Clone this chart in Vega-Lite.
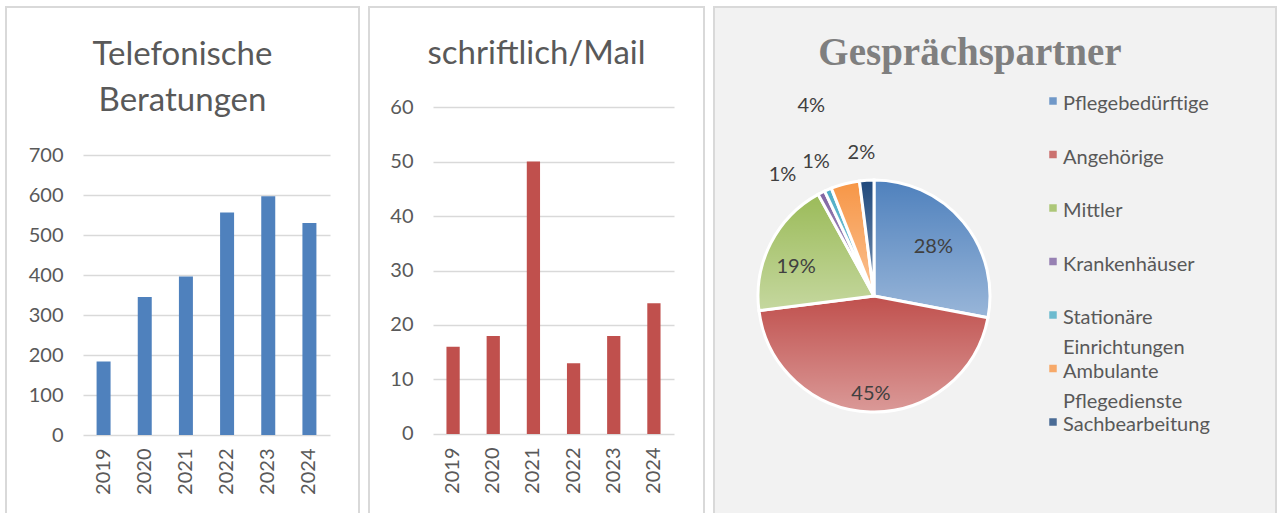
{
  "$schema": "https://vega.github.io/schema/vega-lite/v6.json",
  "padding": {"left": 5, "top": 6, "right": 0, "bottom": 0},
  "spacing": 8,
  "config": {
    "view": {"stroke": "#d9d9d9", "strokeWidth": 2},
    "font": "Lato",
    "axis": {"labelFont": "Lato", "labelFontSize": 20, "labelColor": "#595959", "domain": false, "ticks": false, "gridColor": "#d9d9d9", "gridWidth": 1.5},
    "title": {"font": "Lato", "fontSize": 33, "fontWeight": "normal", "color": "#595959", "anchor": "middle", "frame": "group"}
  },
  "hconcat": [
    {
      "width": 353,
      "height": 507,
      "title": {"text": ["Telefonische", "Beratungen"], "lineHeight": 46, "offset": -111},
      "data": {"values": [
        {"jahr": "2019", "anzahl": 184},
        {"jahr": "2020", "anzahl": 345},
        {"jahr": "2021", "anzahl": 396},
        {"jahr": "2022", "anzahl": 556},
        {"jahr": "2023", "anzahl": 597},
        {"jahr": "2024", "anzahl": 530}
      ]},
      "mark": {"type": "bar", "color": "#4F81BD"},
      "encoding": {
        "x": {"field": "jahr", "type": "ordinal", "title": null,
              "scale": {"range": [77, 324], "paddingInner": 0.66, "paddingOuter": 0.33},
              "axis": {"labelAngle": -90, "offset": -79, "labelPadding": 13, "grid": false}},
        "y": {"field": "anzahl", "type": "quantitative", "title": null,
              "scale": {"domain": [-197.5, 1070], "nice": false, "zero": false},
              "axis": {"values": [0, 100, 200, 300, 400, 500, 600, 700], "offset": -77, "labelPadding": 20, "grid": true}}
      }
    },
    {
      "width": 335,
      "height": 507,
      "title": {"text": "schriftlich/Mail", "offset": -64},
      "data": {"values": [
        {"jahr": "2019", "anzahl": 16},
        {"jahr": "2020", "anzahl": 18},
        {"jahr": "2021", "anzahl": 50},
        {"jahr": "2022", "anzahl": 13},
        {"jahr": "2023", "anzahl": 18},
        {"jahr": "2024", "anzahl": 24}
      ]},
      "mark": {"type": "bar", "color": "#C0504D"},
      "encoding": {
        "x": {"field": "jahr", "type": "ordinal", "title": null,
              "scale": {"range": [64, 305], "paddingInner": 0.67, "paddingOuter": 0.335},
              "axis": {"labelAngle": -90, "offset": -80, "labelPadding": 13, "grid": false}},
        "y": {"field": "anzahl", "type": "quantitative", "title": null,
              "scale": {"domain": [-14.68, 78.35], "nice": false, "zero": false},
              "axis": {"values": [0, 10, 20, 30, 40, 50, 60], "offset": -64, "labelPadding": 20, "grid": true}}
      }
    },
    {
      "width": 562,
      "height": 507,
      "view": {"fill": "#f2f2f2", "stroke": "#d9d9d9", "strokeWidth": 2},
      "title": {"text": "Gesprächspartner", "font": "Liberation Serif", "fontWeight": "bold", "fontSize": 39, "color": "#7f7f7f", "dx": -25, "offset": -66},
      "data": {"values": [
        {"nr": 1, "gruppe": "Pflegebedürftige", "anteil": 0.28},
        {"nr": 2, "gruppe": "Angehörige", "anteil": 0.45},
        {"nr": 3, "gruppe": "Mittler", "anteil": 0.19},
        {"nr": 4, "gruppe": "Krankenhäuser", "anteil": 0.01},
        {"nr": 5, "gruppe": "Stationäre Einrichtungen", "anteil": 0.01},
        {"nr": 6, "gruppe": "Ambulante Pflegedienste", "anteil": 0.04},
        {"nr": 7, "gruppe": "Sachbearbeitung", "anteil": 0.02}
      ]},
      "resolve": {"scale": {"y": "independent"}},
      "layer": [
        {
          "mark": {"type": "arc", "radius": 116, "stroke": "white", "strokeWidth": 3},
          "encoding": {
            "theta": {"field": "anteil", "type": "quantitative", "stack": true},
            "order": {"field": "nr", "type": "quantitative"},
            "color": {"field": "gruppe", "type": "nominal", "legend": null,
                      "scale": {"domain": ["Pflegebedürftige", "Angehörige", "Mittler", "Krankenhäuser", "Stationäre Einrichtungen", "Ambulante Pflegedienste", "Sachbearbeitung"],
                                "range": ["#4F81BD", "#C0504D", "#9BBB59", "#8064A2", "#4BACC6", "#F79646", "#1F497D"]}},
            "x": {"datum": "Diagramm", "type": "nominal", "axis": null, "scale": {"type": "point", "domain": ["Diagramm", "Legende"], "range": [160, 339], "padding": 0}},
            "y": {"datum": "Mitte", "type": "nominal", "axis": null, "scale": {"type": "point", "domain": ["Mitte"], "range": [0, 578], "padding": 0.5}}
          }
        },
        {
          "mark": {"type": "arc", "radius": 116,
                   "color": {"gradient": "linear", "x1": 0, "y1": 0, "x2": 0, "y2": 1,
                             "stops": [{"offset": 0, "color": "rgba(255,255,255,0)"}, {"offset": 1, "color": "rgba(255,255,255,0.42)"}]}},
          "encoding": {
            "theta": {"field": "anteil", "type": "quantitative", "stack": true},
            "order": {"field": "nr", "type": "quantitative"},
            "x": {"datum": "Diagramm", "type": "nominal", "axis": null, "scale": {"type": "point", "domain": ["Diagramm", "Legende"], "range": [160, 339], "padding": 0}},
            "y": {"datum": "Mitte", "type": "nominal", "axis": null, "scale": {"type": "point", "domain": ["Mitte"], "range": [0, 578], "padding": 0.5}}
          }
        },
        {
          "mark": {"type": "text", "clip": true, "radius": 77, "font": "Lato", "fontSize": 20, "color": "#404040"},
          "encoding": {
            "theta": {"field": "anteil", "type": "quantitative", "stack": true},
            "order": {"field": "nr", "type": "quantitative"},
            "text": {"condition": {"test": "datum.gruppe !== 'Pflegebedürftige'", "value": ""}, "field": "anteil", "type": "quantitative", "format": ".0%"},
            "x": {"datum": "Diagramm", "type": "nominal", "axis": null, "scale": {"type": "point", "domain": ["Diagramm", "Legende"], "range": [160, 339], "padding": 0}},
            "y": {"datum": "Mitte", "type": "nominal", "axis": null, "scale": {"type": "point", "domain": ["Mitte"], "range": [0, 578], "padding": 0.5}}
          }
        },
        {
          "mark": {"type": "text", "clip": true, "radius": 98, "font": "Lato", "fontSize": 20, "color": "#404040"},
          "encoding": {
            "theta": {"field": "anteil", "type": "quantitative", "stack": true},
            "order": {"field": "nr", "type": "quantitative"},
            "text": {"condition": {"test": "datum.gruppe !== 'Angehörige'", "value": ""}, "field": "anteil", "type": "quantitative", "format": ".0%"},
            "x": {"datum": "Diagramm", "type": "nominal", "axis": null, "scale": {"type": "point", "domain": ["Diagramm", "Legende"], "range": [160, 339], "padding": 0}},
            "y": {"datum": "Mitte", "type": "nominal", "axis": null, "scale": {"type": "point", "domain": ["Mitte"], "range": [0, 578], "padding": 0.5}}
          }
        },
        {
          "mark": {"type": "text", "clip": true, "radius": 83, "thetaOffset": -0.12, "font": "Lato", "fontSize": 20, "color": "#404040"},
          "encoding": {
            "theta": {"field": "anteil", "type": "quantitative", "stack": true},
            "order": {"field": "nr", "type": "quantitative"},
            "text": {"condition": {"test": "datum.gruppe !== 'Mittler'", "value": ""}, "field": "anteil", "type": "quantitative", "format": ".0%"},
            "x": {"datum": "Diagramm", "type": "nominal", "axis": null, "scale": {"type": "point", "domain": ["Diagramm", "Legende"], "range": [160, 339], "padding": 0}},
            "y": {"datum": "Mitte", "type": "nominal", "axis": null, "scale": {"type": "point", "domain": ["Mitte"], "range": [0, 578], "padding": 0.5}}
          }
        },
        {
          "mark": {"type": "text", "clip": true, "radius": 152, "thetaOffset": -0.1745, "font": "Lato", "fontSize": 20, "color": "#404040"},
          "encoding": {
            "theta": {"field": "anteil", "type": "quantitative", "stack": true},
            "order": {"field": "nr", "type": "quantitative"},
            "text": {"condition": {"test": "datum.gruppe !== 'Krankenhäuser'", "value": ""}, "field": "anteil", "type": "quantitative", "format": ".0%"},
            "x": {"datum": "Diagramm", "type": "nominal", "axis": null, "scale": {"type": "point", "domain": ["Diagramm", "Legende"], "range": [160, 339], "padding": 0}},
            "y": {"datum": "Mitte", "type": "nominal", "axis": null, "scale": {"type": "point", "domain": ["Mitte"], "range": [0, 578], "padding": 0.5}}
          }
        },
        {
          "mark": {"type": "text", "clip": true, "radius": 146, "font": "Lato", "fontSize": 20, "color": "#404040"},
          "encoding": {
            "theta": {"field": "anteil", "type": "quantitative", "stack": true},
            "order": {"field": "nr", "type": "quantitative"},
            "text": {"condition": {"test": "datum.gruppe !== 'Stationäre Einrichtungen'", "value": ""}, "field": "anteil", "type": "quantitative", "format": ".0%"},
            "x": {"datum": "Diagramm", "type": "nominal", "axis": null, "scale": {"type": "point", "domain": ["Diagramm", "Legende"], "range": [160, 339], "padding": 0}},
            "y": {"datum": "Mitte", "type": "nominal", "axis": null, "scale": {"type": "point", "domain": ["Mitte"], "range": [0, 578], "padding": 0.5}}
          }
        },
        {
          "mark": {"type": "text", "clip": true, "radius": 200, "thetaOffset": -0.068, "font": "Lato", "fontSize": 20, "color": "#404040"},
          "encoding": {
            "theta": {"field": "anteil", "type": "quantitative", "stack": true},
            "order": {"field": "nr", "type": "quantitative"},
            "text": {"condition": {"test": "datum.gruppe !== 'Ambulante Pflegedienste'", "value": ""}, "field": "anteil", "type": "quantitative", "format": ".0%"},
            "x": {"datum": "Diagramm", "type": "nominal", "axis": null, "scale": {"type": "point", "domain": ["Diagramm", "Legende"], "range": [160, 339], "padding": 0}},
            "y": {"datum": "Mitte", "type": "nominal", "axis": null, "scale": {"type": "point", "domain": ["Mitte"], "range": [0, 578], "padding": 0.5}}
          }
        },
        {
          "mark": {"type": "text", "clip": true, "radius": 144, "thetaOffset": -0.025, "font": "Lato", "fontSize": 20, "color": "#404040"},
          "encoding": {
            "theta": {"field": "anteil", "type": "quantitative", "stack": true},
            "order": {"field": "nr", "type": "quantitative"},
            "text": {"condition": {"test": "datum.gruppe !== 'Sachbearbeitung'", "value": ""}, "field": "anteil", "type": "quantitative", "format": ".0%"},
            "x": {"datum": "Diagramm", "type": "nominal", "axis": null, "scale": {"type": "point", "domain": ["Diagramm", "Legende"], "range": [160, 339], "padding": 0}},
            "y": {"datum": "Mitte", "type": "nominal", "axis": null, "scale": {"type": "point", "domain": ["Mitte"], "range": [0, 578], "padding": 0.5}}
          }
        },
        {
          "mark": {"type": "point", "shape": "square", "size": 56, "filled": true, "opacity": 0.8},
          "encoding": {
            "color": {"field": "gruppe", "type": "nominal", "legend": null},
            "x": {"datum": "Legende", "type": "nominal", "axis": null, "scale": {"type": "point", "domain": ["Diagramm", "Legende"], "range": [160, 339], "padding": 0}},
            "y": {"field": "gruppe", "type": "nominal", "axis": null, "scale": {"type": "point", "domain": ["Pflegebedürftige", "Angehörige", "Mittler", "Krankenhäuser", "Stationäre Einrichtungen", "Ambulante Pflegedienste", "Sachbearbeitung"], "range": [94, 415], "padding": 0}}
          }
        },
        {
          "mark": {"type": "text", "align": "left", "baseline": "top", "dx": 10, "dy": -7, "lineBreak": " ", "lineHeight": 30, "font": "Lato", "fontSize": 20, "color": "#595959"},
          "encoding": {
            "text": {"field": "gruppe", "type": "nominal"},
            "x": {"datum": "Legende", "type": "nominal", "axis": null, "scale": {"type": "point", "domain": ["Diagramm", "Legende"], "range": [160, 339], "padding": 0}},
            "y": {"field": "gruppe", "type": "nominal", "axis": null, "scale": {"type": "point", "domain": ["Pflegebedürftige", "Angehörige", "Mittler", "Krankenhäuser", "Stationäre Einrichtungen", "Ambulante Pflegedienste", "Sachbearbeitung"], "range": [94, 415], "padding": 0}}
          }
        }
      ]
    }
  ]
}
